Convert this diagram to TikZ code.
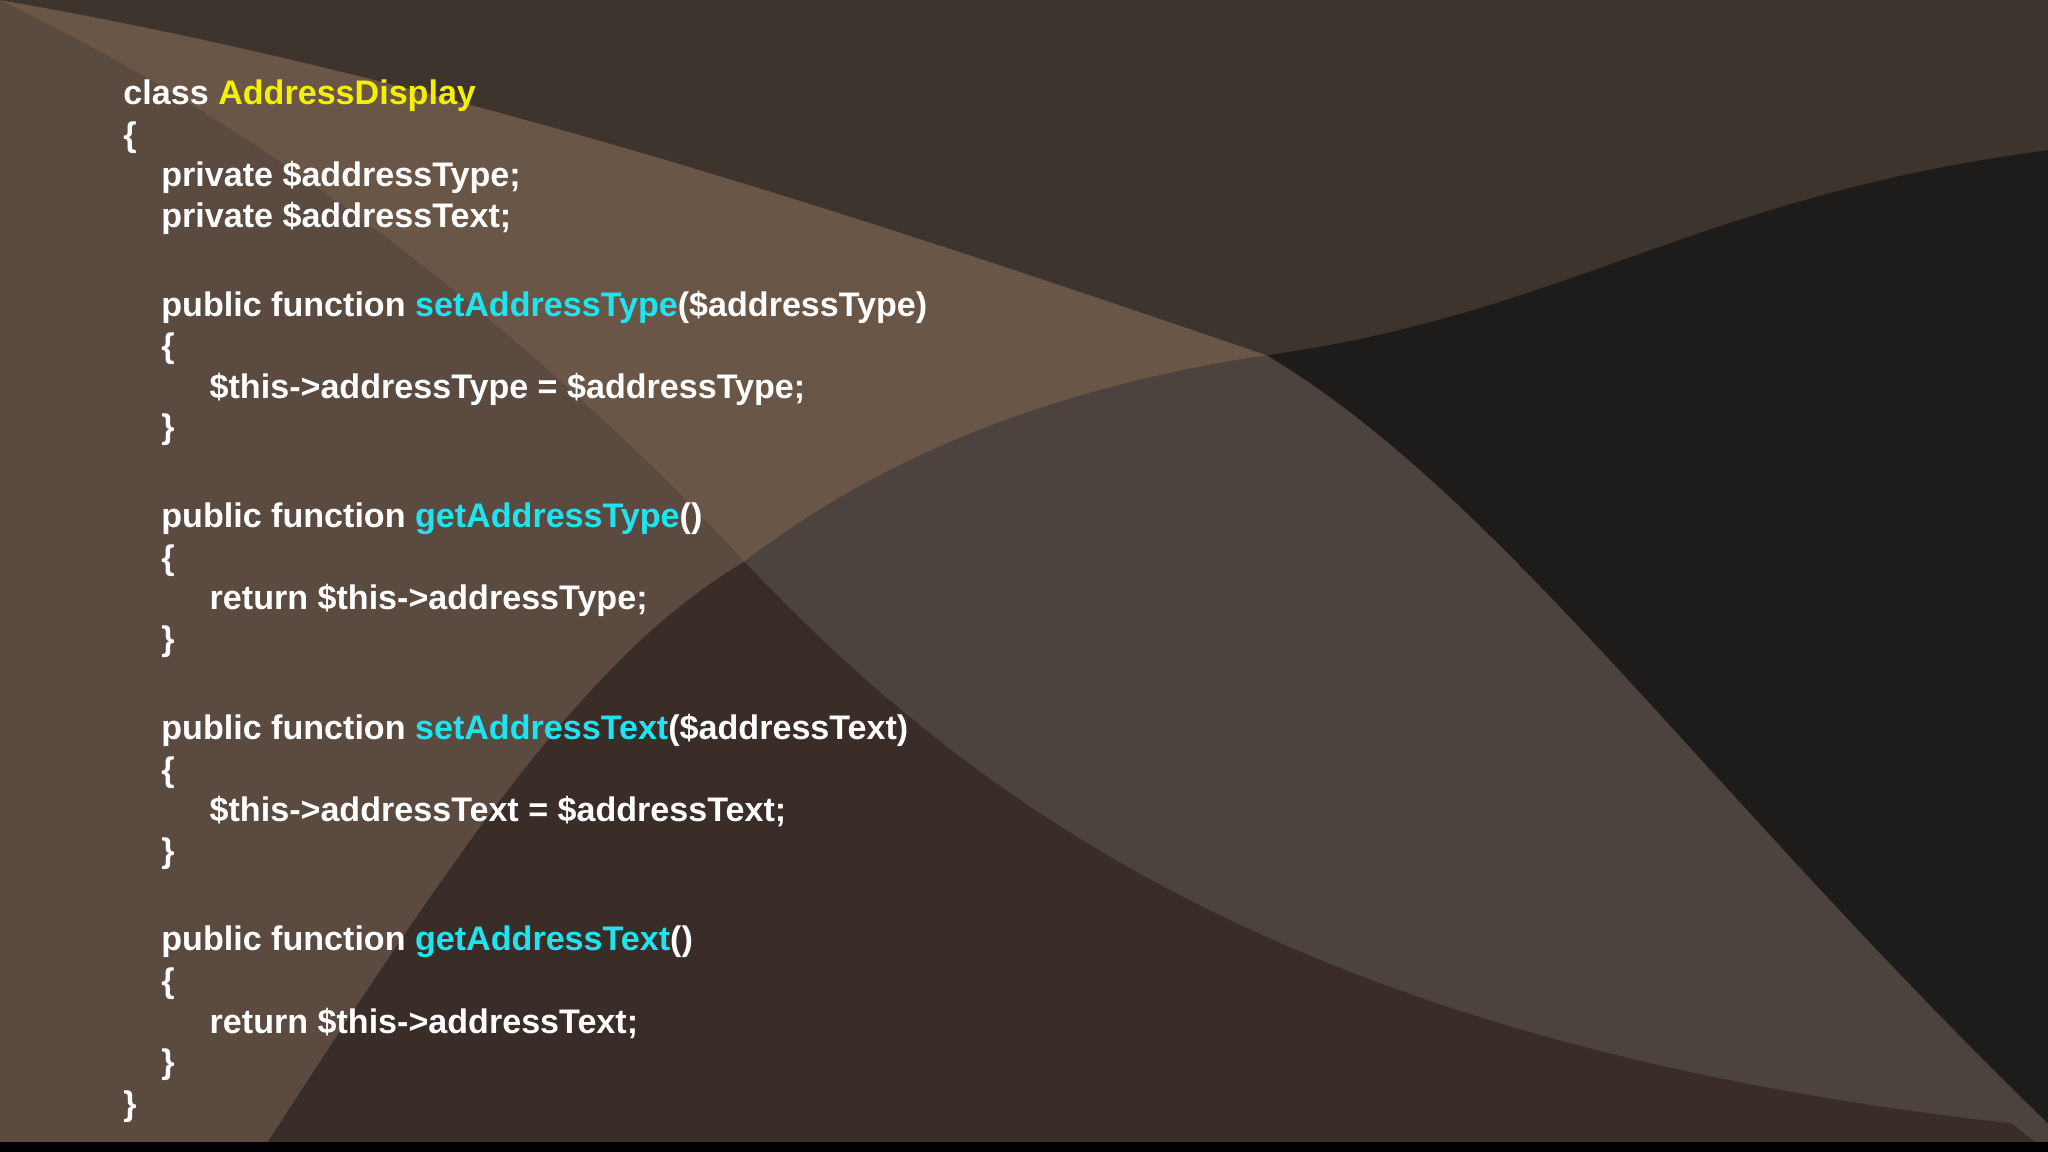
\documentclass[tikz,border=0pt]{standalone}
\usepackage{fontspec}
\setmainfont{Liberation Sans}
\begin{document}
\begin{tikzpicture}[x=0.01306cm,y=-0.01306cm,
  code/.style={anchor=base west,inner sep=0,font=\fontsize{9.7pt}{11pt}\selectfont\bfseries,text=white}]
\definecolor{bgbase}{HTML}{3A2C27}
\definecolor{bgtop}{HTML}{3E342E}
\definecolor{bgleft}{HTML}{5A4A3F}
\definecolor{bglight}{HTML}{6A5647}
\definecolor{bgmid}{HTML}{4C423E}
\definecolor{bgdark}{HTML}{1E1C1B}
\definecolor{fncol}{HTML}{1EE4F2}
\definecolor{clscol}{HTML}{F5F000}
\useasboundingbox (0,0) rectangle (1568,882);
\fill[bgbase] (0,0) rectangle (1568,882);
% left lighter region
\fill[bgleft] (0,0) -- (0,882) -- (200,882) .. controls (350,650) and (450,500) .. (570,430)
  .. controls (700,330) and (850,290) .. (970,272) .. controls (700,180) and (350,60) .. (0,0);
% lighter swoosh
\fill[bglight] (0,0) .. controls (250,120) and (450,300) .. (570,430)
  .. controls (700,330) and (850,290) .. (970,272) .. controls (700,180) and (350,60) .. (0,0);
% mid band right
\fill[bgmid] (970,272) .. controls (850,290) and (700,330) .. (570,430)
  .. controls (750,620) and (1000,800) .. (1540,860) -- (1568,882) -- (1568,860)
  .. controls (1300,600) and (1150,380) .. (970,272);
% top region
\fill[bgtop] (0,0) -- (1568,0) -- (1568,115) .. controls (1300,150) and (1200,240) .. (970,272)
  .. controls (700,180) and (350,60) .. (0,0);
% dark right
\fill[bgdark] (970,272) .. controls (1200,240) and (1300,150) .. (1568,115) -- (1568,860)
  .. controls (1300,600) and (1150,380) .. (970,272);
\fill[black] (0,874) rectangle (1568,882);
% code
\node[code] (l1) at (94,80) {class \textcolor{clscol}{AddressDisplay}};
\node[code] (l2) at (94,112) {\{};
\node[code] (l3) at (123,143) {private \$addressType;};
\node[code] (l4) at (123,174) {private \$addressText;};
\node[code] (l5) at (123,242) {public function \textcolor{fncol}{setAddressType}(\$addressType)};
\node[code] (l6) at (123,274) {\{};
\node[code] (l7) at (160,305) {\$this->addressType = \$addressType;};
\node[code] (l8) at (123,336) {\}};
\node[code] (l9) at (123,404) {public function \textcolor{fncol}{getAddressType}()};
\node[code] (l10) at (123,436) {\{};
\node[code] (l11) at (160,467) {return \$this->addressType;};
\node[code] (l12) at (123,498) {\}};
\node[code] (l13) at (123,566) {public function \textcolor{fncol}{setAddressText}(\$addressText)};
\node[code] (l14) at (123,598) {\{};
\node[code] (l15) at (160,629) {\$this->addressText = \$addressText;};
\node[code] (l16) at (123,660) {\}};
\node[code] (l17) at (123,728) {public function \textcolor{fncol}{getAddressText}()};
\node[code] (l18) at (123,760) {\{};
\node[code] (l19) at (160,791) {return \$this->addressText;};
\node[code] (l20) at (123,822) {\}};
\node[code] (l21) at (94,854) {\}};
\end{tikzpicture}
\end{document}
